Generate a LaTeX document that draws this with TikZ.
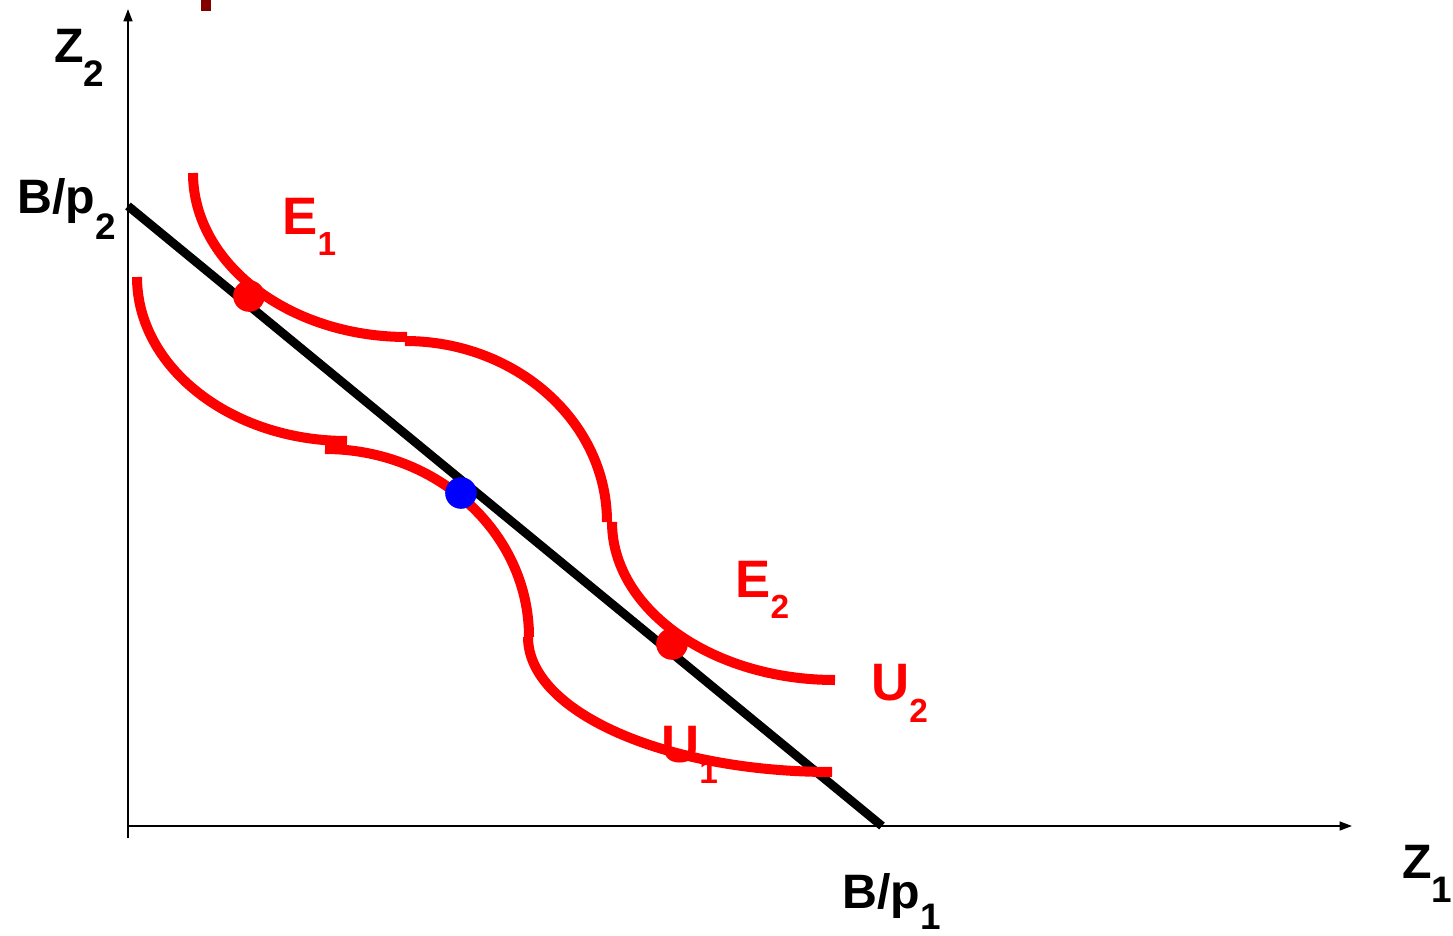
\documentclass[tikz,border=0pt]{standalone}
\usepackage{fontspec}
\setmainfont{Liberation Sans}
\usetikzlibrary{arrows.meta}
\definecolor{darkred}{RGB}{128,0,0}
\newcommand\subfs{19}
\newcommand\lowidx[2][13pt]{\raisebox{-#1}{\fontsize{\subfs}{\subfs}\selectfont #2}}
\tikzset{
  axis/.style={line width=1.1pt,-{Triangle[length=7pt,width=5pt]}},
  budget/.style={line width=5pt},
  indiff/.style={red,line width=5.7pt},
  dot/.style={circle,minimum size=18pt,inner sep=0pt},
  blabel/.style={anchor=base west,inner sep=0pt,
    font=\renewcommand\subfs{21}\fontsize{27.5}{27.5}\selectfont\bfseries},
  rlabel/.style={anchor=base west,inner sep=0pt,red,
    font=\fontsize{30}{30}\selectfont\bfseries}
}

\begin{document}
\begin{tikzpicture}[x=0.02cm,y=-0.02cm]
  \useasboundingbox (0,0) rectangle (1453,936);
  % axes
  \coordinate (ybot) at (128,838);
  \coordinate (ytop) at (128,9);
  \coordinate (o) at (128,826);
  \coordinate (xend) at (1352,826);
  \draw[axis] (ybot) -- (ytop);
  \draw[axis] (o) -- (xend);
  \fill[darkred] (201,0) rectangle (211,11);
  % budget line
  \coordinate (bp2) at (128,206);
  \coordinate (bp1) at (882,826);
  \draw[budget] (bp2) -- (bp1);
  % indifference curves
  \draw[indiff] (193,173) .. controls (193,263.5) and (288.9,337) .. (407,337);
  \draw[indiff] (405,341) .. controls (516.5,341) and (607,422.1) .. (607,522);
  \draw[indiff] (612,522) .. controls (612,609.2) and (711.9,680) .. (835,680);
  \draw[indiff] (137,277) .. controls (137,367.5) and (231.1,441) .. (347,441);
  \draw[indiff] (325,449) .. controls (437.6,449) and (529,533.2) .. (529,637);
  \draw[indiff] (528,637) .. controls (528,711.5) and (664.2,772) .. (832,772);
  % optima
  \node[dot,fill=red] (e1) at (249,296) {};
  \node[dot,fill=red] (e2) at (672,644) {};
  \node[dot,fill=blue] (m) at (461,493) {};
  % labels
  \node[blabel] (z2) at (54,63) {Z\lowidx[13.5pt]{2}};
  \node[blabel] (b2) at (17,213) {B/p\lowidx[15pt]{2}};
  \node[blabel] (z1) at (1402,878) {Z\lowidx[14pt]{1}};
  \node[blabel] (b1) at (842,908) {B/p\lowidx[12pt]{1}};
  \node[rlabel] (le1) at (282,234) {E\lowidx[12pt]{1}};
  \node[rlabel] (le2) at (735,597) {E\lowidx[12pt]{2}};
  \node[rlabel] (lu2) at (871,700) {U\lowidx[13pt]{2}};
  \node[rlabel] (lu1) at (661,762) {U\lowidx[12pt]{1}};
\end{tikzpicture}
\end{document}
